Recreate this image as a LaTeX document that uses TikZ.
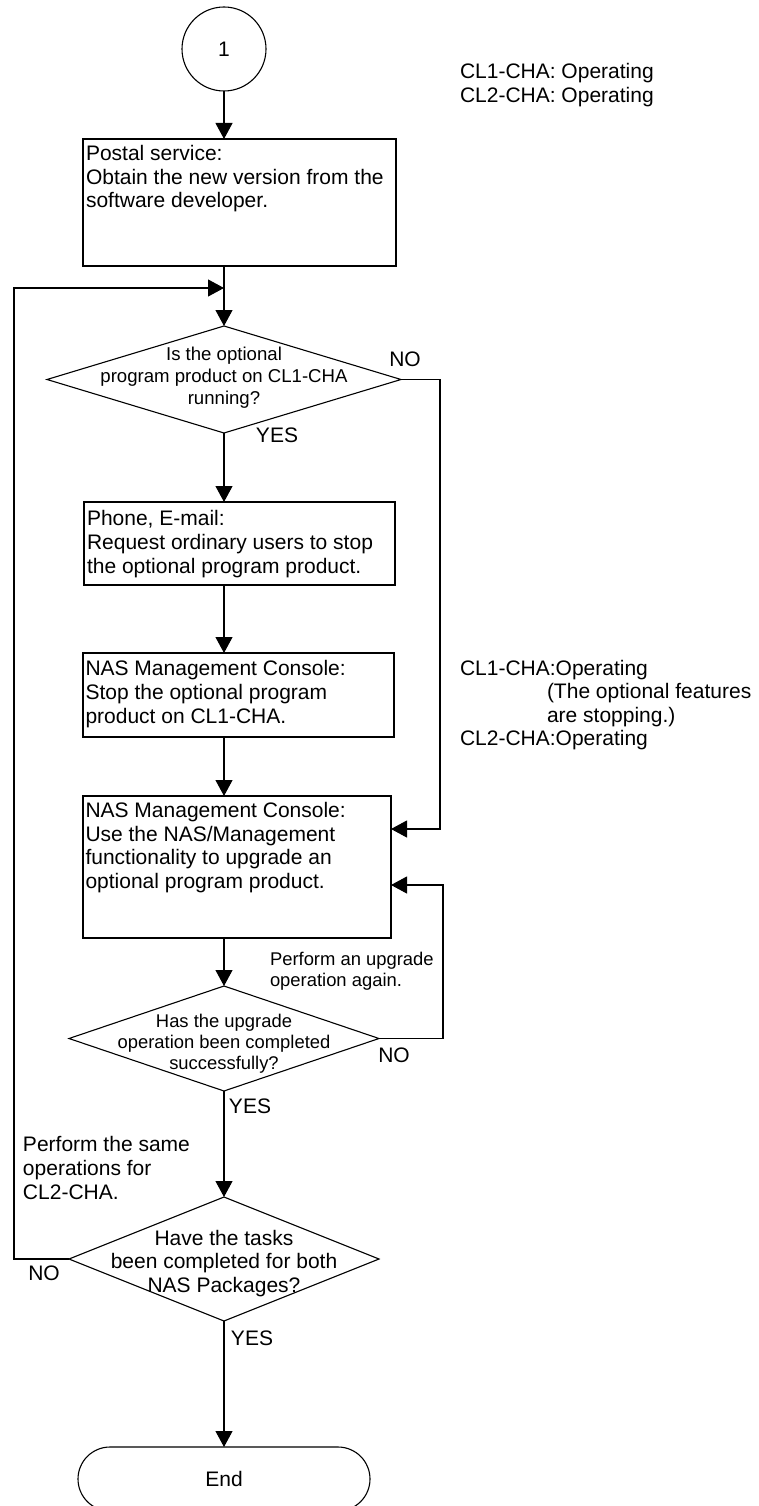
\documentclass[tikz,border=0pt]{standalone}
\usepackage{fontspec}
\setmainfont{Liberation Sans}
\usetikzlibrary{arrows.meta,shapes.geometric,shapes.misc}
\begin{document}
\begin{tikzpicture}[x=1pt,y=-1pt,
  line width=1.1pt,
  every node/.style={inner sep=0pt, outer sep=0pt},
  fnt/.style={font=\fontsize{21}{23.6}\selectfont},
  fntd/.style={font=\fontsize{18.6}{22.3}\selectfont},
  fntu/.style={font=\fontsize{18.4}{21}\selectfont},
  procbox/.style={draw, rectangle},
  decis/.style={draw, diamond},
  txt/.style={fnt, align=left, anchor=west},
  arr/.style={-{Triangle[length=16pt,width=17pt]}},
]
\useasboundingbox (0,0) rectangle (758,1506);
\clip (0,0) rectangle (758,1506);

% shapes
\node[draw, circle, minimum size=84pt, fnt] (c1) at (224,49) {1};
\node[procbox, minimum width=313pt, minimum height=127pt] (b1) at (239.5,202.5) {};
\node[decis, minimum width=354pt, minimum height=107pt] (d1) at (224,379.5) {};
\node[procbox, minimum width=311pt, minimum height=83pt] (b2) at (239.5,543.5) {};
\node[procbox, minimum width=311pt, minimum height=84pt] (b3) at (238.5,695) {};
\node[procbox, minimum width=308pt, minimum height=142pt] (b4) at (237,867) {};
\node[decis, minimum width=310pt, minimum height=105pt] (d2) at (224,1038.5) {};
\node[decis, minimum width=310pt, minimum height=124pt] (d3) at (224,1259) {};
\node[draw, rounded rectangle, minimum width=292pt, minimum height=64pt, fnt] (e) at (224,1479) {End};

% texts in boxes
\node[txt] (t1) at (86,178.7) {Postal service:\\Obtain the new version from the\\software developer.};
\node[txt] (t2) at (87,544) {Phone, E-mail:\\Request ordinary users to stop\\the optional program product.};
\node[txt] (t3) at (85.5,694) {NAS Management Console:\\Stop the optional program\\product on CL1-CHA.};
\node[txt] (t4) at (85.5,847.5) {NAS Management Console:\\Use the NAS/Management\\functionality to upgrade an\\optional program product.};

% diamond texts
\node[fntd, align=center] (d1t) at (224,377.5) {Is the optional\\program product on CL1-CHA\\running?};
\node[fntu, align=center] (d2t) at (224,1044) {Has the upgrade\\operation been completed\\successfully?};
\node[fnt, align=center] (d3t) at (224,1263.5) {Have the tasks\\been completed for both\\NAS Packages?};

% side notes
\node[txt] (s1) at (460,85) {CL1-CHA: Operating\\CL2-CHA: Operating};
\node[txt] (s2) at (460,705) {CL1-CHA:Operating\\\hspace*{87pt}(The optional features\\\hspace*{87pt}are stopping.)\\CL2-CHA:Operating};
\node[fntu, align=left, anchor=west] (s3) at (270,971.5) {Perform an upgrade\\operation again.};
\node[txt] (s4) at (23,1168) {Perform the same\\operations for\\CL2-CHA.};

% branch labels
\node[fnt] (no1) at (405,359) {NO};
\node[fnt] (yes1) at (277,435) {YES};
\node[fnt] (no2) at (394,1055) {NO};
\node[fnt] (yes2) at (250,1106) {YES};
\node[fnt] (no3) at (44,1273) {NO};
\node[fnt] (yes3) at (252,1338) {YES};

% connectors
\draw[arr] (c1.south) -- (c1.south |- b1.north);
\draw[arr] (d1.north |- b1.south) -- (d1.north);
\draw[arr] (d1.south) -- (d1.south |- b2.north);
\draw[arr] (d1.south |- b2.south) -- (d1.south |- b3.north);
\draw[arr] (d1.south |- b3.south) -- (d1.south |- b4.north);
\draw[arr] (d2.north |- b4.south) -- (d2.north);
\draw[arr] (d2.south) -- (d3.north);
\draw[arr] (d3.south) -- (e.north);
\coordinate (lp) at (14,288);
\coordinate (lpe) at (224,288);
\draw[arr] (d3.west) -| (lp) -- (lpe);
\coordinate (n1) at (440,829);
\draw[arr] (d1.east) -| (n1) -- (n1 -| b4.east);
\coordinate (n2) at (443,885);
\draw[arr] (d2.east) -| (n2) -- (n2 -| b4.east);
\end{tikzpicture}
\end{document}
